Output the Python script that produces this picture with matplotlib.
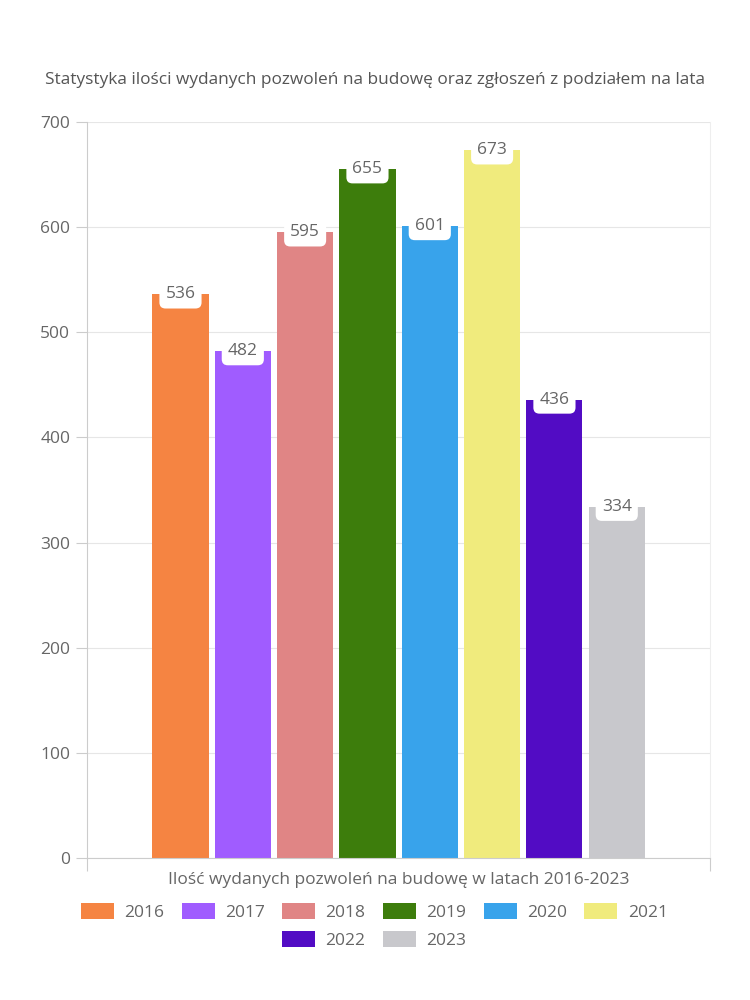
import matplotlib.pyplot as plt
import numpy as np

years = ['2016', '2017', '2018', '2019', '2020', '2021', '2022', '2023']
values = [536, 482, 595, 655, 601, 673, 436, 334]
colors = ['#f58442', '#a05cff', '#e08585', '#3d7d0c', '#38a3eb', '#f0eb7d', '#520cc4', '#c8c8cc']

plt.rcParams['font.family'] = ['Open Sans', 'DejaVu Sans']
txt = '#666666'

fig = plt.figure(figsize=(7.5, 10), dpi=100)
ax = fig.add_axes([0.116, 0.142, 0.831, 0.736])

n = len(years)
step = 0.1
width = 0.09
x = (np.arange(n) - (n - 1) / 2) * step
bars = ax.bar(x, values, width=width, color=colors, label=years, zorder=2)

for xi, v in zip(x, values):
    ax.text(xi, v, str(v), ha='center', va='center', fontsize=12.5, color=txt, zorder=3,
            bbox=dict(boxstyle='round,pad=0.35,rounding_size=0.35', fc='white', ec='none'))

ax.set_xlim(-0.5, 0.5)
ax.set_ylim(0, 700)
ax.set_yticks(range(0, 701, 100))
ax.set_xticks([-0.5, 0.5])
ax.set_xticklabels([])
ax.tick_params(axis='x', length=9, color='#cccccc')
ax.tick_params(axis='y', length=8, color='#cccccc', labelsize=12.5, labelcolor=txt, pad=4)
ax.grid(axis='y', color='#e6e6e6', linewidth=0.8, zorder=0)
for s in ['left', 'bottom']:
    ax.spines[s].set_color('#cccccc')
ax.spines['right'].set_color('#eeeeee')
ax.spines['top'].set_visible(False)

fig.text(0.531, 0.120, 'Ilość wydanych pozwoleń na budowę w latach 2016-2023',
         fontsize=12.5, color=txt, ha='center', va='center')
fig.text(0.5, 0.920, 'Statystyka ilości wydanych pozwoleń na budowę oraz zgłoszeń z podziałem na lata',
         fontsize=12.4, color='#555555', ha='center', va='center')

legkw = dict(frameon=False, fontsize=12.5, labelcolor=txt, handlelength=1.9,
             handleheight=1.05, columnspacing=1.0, handletextpad=0.6)
leg1 = fig.legend(handles=list(bars)[:6], labels=years[:6], loc='center',
                  bbox_to_anchor=(0.499, 0.088), ncol=6, **legkw)
leg2 = fig.legend(handles=list(bars)[6:], labels=years[6:], loc='center',
                  bbox_to_anchor=(0.499, 0.060), ncol=2, **legkw)

fig.savefig('out.png', dpi=100)
